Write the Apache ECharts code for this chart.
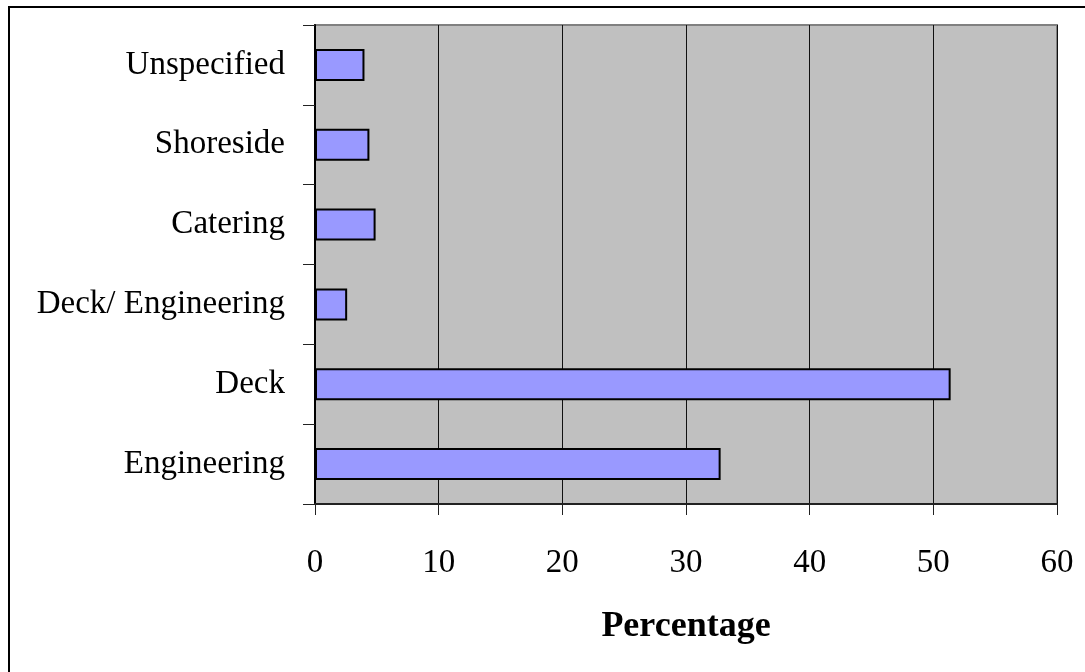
<!DOCTYPE html>
<html>
<head>
<meta charset="utf-8">
<script src="https://cdn.jsdelivr.net/npm/echarts@6/dist/echarts.min.js"></script>
<style>html,body{margin:0;padding:0;background:#fff}#c{width:1085px;height:672px}</style>
</head>
<body>
<div id="c"></div>
<script>
const categories = ['Engineering', 'Deck', 'Deck/ Engineering', 'Catering', 'Shoreside', 'Unspecified'];
const values = [32.8, 51.4, 2.6, 4.9, 4.4, 4.0];
const xTicks = [0, 10, 20, 30, 40, 50, 60];
const axisTitle = 'Percentage';

const chart = echarts.init(document.getElementById('c'), null, {renderer: 'canvas'});
const font = '"Liberation Serif", "Times New Roman", serif';
chart.setOption({
  animation: false,
  graphic: [{
    type: 'rect', shape: {x: 9, y: 7, width: 1100, height: 700},
    style: {fill: 'none', stroke: '#000', lineWidth: 2}, z: -10
  }],
  grid: {
    left: 315, top: 25, right: 28, bottom: 168,
    show: true, backgroundColor: '#C0C0C0', borderColor: '#808080', borderWidth: 2
  },
  xAxis: {
    type: 'value', min: xTicks[0], max: xTicks[xTicks.length - 1], interval: 10,
    name: axisTitle, nameLocation: 'middle', nameGap: 105,
    nameTextStyle: {fontFamily: font, fontSize: 36, fontWeight: 'bold', color: '#000'},
    axisLine: {show: true, lineStyle: {color: '#222', width: 2}},
    axisTick: {show: true, length: 11, lineStyle: {color: '#222', width: 1}},
    axisLabel: {fontFamily: font, fontSize: 33, color: '#000', margin: 43},
    splitLine: {show: true, lineStyle: {color: '#111', width: 1}}
  },
  yAxis: {
    type: 'category', data: categories,
    axisLine: {show: true, lineStyle: {color: '#000', width: 2}},
    axisTick: {show: true, length: 12, lineStyle: {color: '#222', width: 1}},
    axisLabel: {fontFamily: font, fontSize: 33, color: '#000', margin: 30}
  },
  series: [{
    type: 'bar', data: values, barCategoryGap: '60%',
    itemStyle: {color: '#9999FF', borderColor: '#000', borderWidth: 2}
  }]
});
</script>
</body>
</html>
